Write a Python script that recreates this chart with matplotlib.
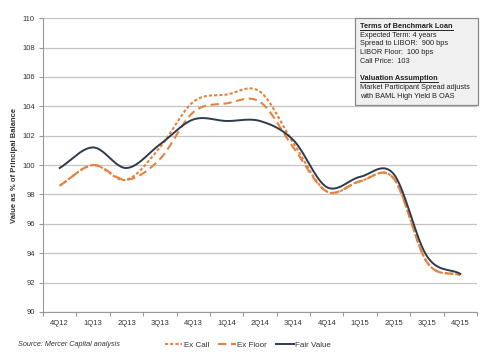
import numpy as np
import matplotlib
matplotlib.use('Agg')
from matplotlib import pyplot as plt
from matplotlib.lines import Line2D

quarters = ['4Q12', '1Q13', '2Q13', '3Q13', '4Q13', '1Q14', '2Q14',
            '3Q14', '4Q14', '1Q15', '2Q15', '3Q15', '4Q15']
ex_call = [98.6, 100.0, 99.0, 101.2, 104.3, 104.8, 105.0,
           101.5, 98.2, 98.9, 99.1, 93.4, 92.5]
ex_floor = [98.6, 100.0, 99.0, 100.4, 103.6, 104.2, 104.3,
            101.2, 98.2, 98.9, 99.1, 93.4, 92.5]
fair_value = [99.8, 101.2, 99.8, 101.4, 103.1, 103.0, 103.0,
              101.7, 98.5, 99.2, 99.4, 93.8, 92.6]
y_ticks = list(range(90, 111, 2))

ORANGE = '#E5823F'
NAVY = '#2F3A4C'
GRID = '#c4c4c4'
TXT = '#333333'


def smooth(vals, n=30):
    # catmull-rom, like excel's "smoothed line"
    p = np.array(vals, dtype=float)
    x = np.arange(len(p), dtype=float)
    m = np.zeros_like(p)
    m[1:-1] = (p[2:] - p[:-2]) / 2
    m[0] = p[1] - p[0]
    m[-1] = p[-1] - p[-2]
    xs, ys = [], []
    for i in range(len(p) - 1):
        t = np.linspace(0, 1, n, endpoint=False)
        h00 = 2 * t**3 - 3 * t**2 + 1
        h10 = t**3 - 2 * t**2 + t
        h01 = -2 * t**3 + 3 * t**2
        h11 = t**3 - t**2
        xs.append(x[i] + t)
        ys.append(h00 * p[i] + h10 * m[i] + h01 * p[i + 1] + h11 * m[i + 1])
    xs.append([x[-1]])
    ys.append([p[-1]])
    return np.concatenate(xs), np.concatenate(ys)


plt.rcParams['font.family'] = ['Liberation Sans', 'DejaVu Sans']

fig = plt.figure(figsize=(5, 3.63), dpi=100)
ax = fig.add_axes([0.086, 0.1405, 0.868, 0.8095])

x, y = smooth(ex_call)
ax.plot(x, y, color=ORANGE, lw=1.5, dashes=(1.5, 1.0), label='Ex Call', zorder=3)
x, y = smooth(ex_floor)
ax.plot(x, y, color=ORANGE, lw=1.5, dashes=(4, 2.2), label='Ex Floor', zorder=3)
x, y = smooth(fair_value)
ax.plot(x, y, color=NAVY, lw=1.4, label='Fair Value', zorder=4)

ax.set_xlim(-0.5, len(quarters) - 0.5)
ax.set_ylim(90, 110)
ax.set_yticks(y_ticks)
ax.set_yticklabels([str(v) for v in y_ticks], fontsize=5.5, color=TXT)
ax.set_xticks(range(len(quarters)))
ax.set_xticklabels(quarters, fontsize=5.5, color=TXT)
ax.set_xticks(np.arange(-0.5, len(quarters), 1.0), minor=True)
ax.tick_params(axis='x', which='major', length=0, pad=6)
ax.tick_params(axis='x', which='minor', length=3, color='#999999', width=0.8)
ax.tick_params(axis='y', length=3, color='#999999', width=0.8, pad=3)

ax.grid(axis='y', color=GRID, lw=0.9)
ax.set_axisbelow(True)
for s in ['top', 'right']:
    ax.spines[s].set_visible(False)
for s in ['left', 'bottom']:
    ax.spines[s].set_color('#999999')
    ax.spines[s].set_linewidth(0.8)

ax.set_ylabel('Value as % of Principal Balance', fontsize=5.5, fontweight='bold',
              color=TXT, labelpad=3)

# info box
box_lines = [
    ('Terms of Benchmark Loan', True),
    ('Expected Term: 4 years', False),
    ('Spread to LIBOR:  900 bps', False),
    ('LIBOR Floor:  100 bps', False),
    ('Call Price:  103', False),
    ('', False),
    ('Valuation Assumption', True),
    ('Market Participant Spread adjusts', False),
    ('with BAML High Yield B OAS', False),
]
bx0, by0, bx1, by1 = 355 / 500, 1 - 105 / 363, 478 / 500, 1 - 18 / 363
rect = plt.Rectangle((bx0, by0), bx1 - bx0, by1 - by0, transform=fig.transFigure,
                     facecolor='#f0f0f0', edgecolor='#8a8a8a', lw=0.9, zorder=5)
fig.patches.append(rect)

heads = []
for i, (t, bold) in enumerate(box_lines):
    if not t:
        continue
    yy = by1 - (5 + i * 8.7) / 363
    tx = fig.text(bx0 + 5 / 500, yy, t, fontsize=5.3, fontweight='bold' if bold else 'normal',
                  color='#222222', va='top', ha='left', zorder=6)
    if bold:
        heads.append(tx)

fig.canvas.draw()
r = fig.canvas.get_renderer()
for tx in heads:
    bb = tx.get_window_extent(r).transformed(fig.transFigure.inverted())
    fig.add_artist(Line2D([bb.x0, bb.x1], [bb.y0 + 0.001, bb.y0 + 0.001],
                          transform=fig.transFigure, color='#222222', lw=0.7, zorder=6))

fig.text(18 / 500, 1 - 345 / 363, 'Source: Mercer Capital analysis', fontsize=5.2,
         style='italic', color=TXT, va='center', ha='left')

fig.legend(loc='center', bbox_to_anchor=(0.496, 1 - 345 / 363), ncol=3, frameon=False,
           fontsize=5.8, handlelength=2.2, columnspacing=1.1, handletextpad=0.2,
           labelcolor=TXT)

fig.savefig('out.png', dpi=100)
